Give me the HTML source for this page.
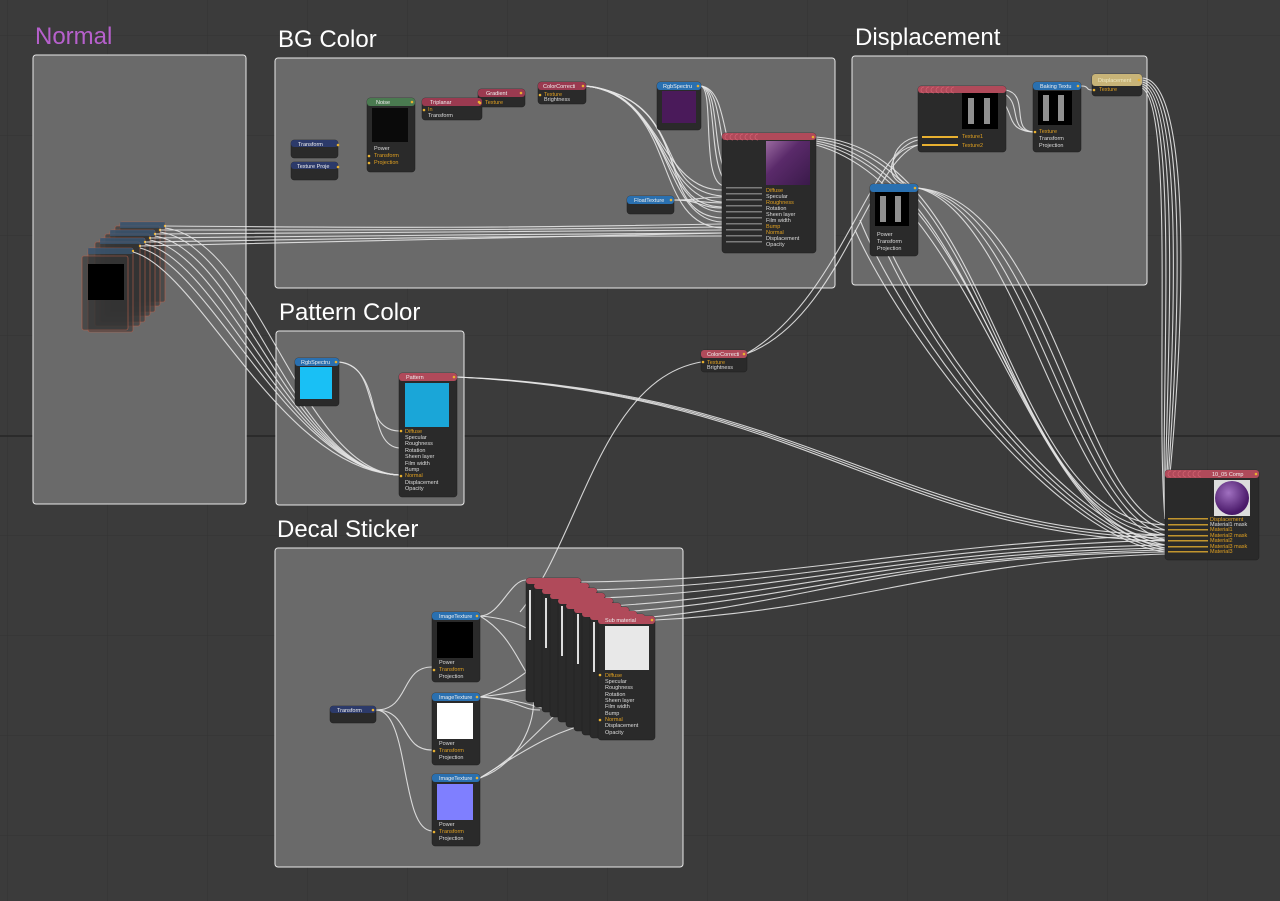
<!DOCTYPE html>
<html><head><meta charset="utf-8"><style>
html,body{margin:0;padding:0;background:#3b3b3b;}
svg{display:block}
text{font-family:"Liberation Sans",sans-serif;}
.t{font-size:5.5px;fill:#ddd}
.o{font-size:5.5px;fill:#e0a020}
.h{font-size:5.5px;fill:#eee}
.g{font-size:24px;fill:#fff}
.w path{fill:none;stroke:#e6e6e6;stroke-width:1.1;opacity:.9}
</style></head><body>
<svg width="1280" height="901" viewBox="0 0 1280 901" xmlns="http://www.w3.org/2000/svg">
<defs>
<pattern id="grid" width="100" height="100" patternUnits="userSpaceOnUse" x="8" y="36">
<path d="M100 0V100M0 100H100" stroke="#333" stroke-width="1" fill="none"/>
</pattern>
<linearGradient id="pg" x1="0" y1="0" x2="1" y2="1"><stop offset="0" stop-color="#9a6aa0"/><stop offset=".4" stop-color="#5a2a6a"/><stop offset="1" stop-color="#3a1a4a"/></linearGradient>
<radialGradient id="sp" cx=".4" cy=".35" r=".6"><stop offset="0" stop-color="#a070c0"/><stop offset="1" stop-color="#4a1a6a"/></radialGradient>
</defs>
<rect width="1280" height="901" fill="#3b3b3b"/>
<rect width="1280" height="901" fill="url(#grid)"/>
<line x1="0" y1="436" x2="1280" y2="436" stroke="#262626" stroke-width="1.5"/>

<g fill="#6a6a6a" stroke="#e8e8e8" stroke-width="1">
<rect x="33" y="55" width="213" height="449" rx="3"/>
<rect x="275" y="58" width="560" height="230" rx="3"/>
<rect x="852" y="56" width="295" height="229" rx="3"/>
<rect x="276" y="331" width="188" height="174" rx="3"/>
<rect x="275" y="548" width="408" height="319" rx="3"/>
</g>
<text x="35" y="44" class="g" style="fill:#b660cc">Normal</text>
<text x="278" y="47" class="g">BG Color</text>
<text x="855" y="45" class="g">Displacement</text>
<text x="279" y="320" class="g">Pattern Color</text>
<text x="277" y="537" class="g">Decal Sticker</text>

<!-- Normal stack -->
<g stroke="#b8604a" stroke-width=".6" fill="#333" fill-opacity=".6">
<rect x="120" y="222" width="45" height="80" rx="2"/>
<rect x="115" y="226" width="45" height="80" rx="2"/>
<rect x="110" y="230" width="45" height="82" rx="2"/>
<rect x="105" y="234" width="45" height="82" rx="2"/>
<rect x="100" y="238" width="45" height="84" rx="2"/>
<rect x="95" y="242" width="45" height="84" rx="2"/>
<rect x="88" y="248" width="45" height="84" rx="2"/>
<rect x="82" y="256" width="46" height="74" rx="2"/>
</g>
<g fill="#3a5a7a" opacity=".7"><rect x="120" y="222" width="45" height="6"/><rect x="110" y="230" width="45" height="6"/><rect x="100" y="238" width="45" height="6"/><rect x="88" y="248" width="45" height="6"/></g>
<rect x="88" y="264" width="36" height="36" fill="#000"/>
<g fill="#e8b030"><circle cx="165" cy="226" r="1.2"/><circle cx="160" cy="230" r="1.2"/><circle cx="155" cy="234" r="1.2"/><circle cx="150" cy="238" r="1.2"/><circle cx="145" cy="242" r="1.2"/><circle cx="140" cy="246" r="1.2"/><circle cx="133" cy="251" r="1.2"/></g>

<g class="w">
<path d="M165 226C400 228 500 228 722 224"/><path d="M160 230C400 230 500 230 722 227"/><path d="M155 234C400 232 500 232 722 230"/><path d="M150 238C400 236 500 234 722 233"/><path d="M145 242C400 238 500 236 722 236"/><path d="M140 246C400 240 500 238 722 233"/>
<path d="M165 228C260 240 300 470 399 475"/><path d="M160 232C250 245 290 470 399 475"/><path d="M155 236C240 250 290 470 399 475"/><path d="M150 240C230 255 290 470 399 475"/><path d="M145 244C220 260 290 470 399 475"/><path d="M140 248C210 265 290 470 399 475"/><path d="M133 252C200 270 280 470 399 475"/>
<path d="M586 86C660 90 660 190 722 190"/><path d="M586 86C665 92 660 200 722 202"/><path d="M586 86C670 94 660 210 722 212"/><path d="M586 86C675 96 660 220 722 222"/><path d="M586 86C680 98 650 225 722 228"/><path d="M586 86C690 100 650 190 722 196"/><path d="M586 86C695 100 650 205 722 207"/><path d="M586 86C700 100 650 215 722 218"/>
<path d="M701 86C720 90 705 185 735 186"/><path d="M701 86C725 90 705 185 745 186"/><path d="M701 86C730 90 710 185 755 186"/><path d="M701 86C735 90 715 185 765 186"/><path d="M701 86C715 90 700 185 725 186"/>
<path d="M674 200C700 200 700 197 722 197"/><path d="M674 200C700 200 700 203 722 203"/><path d="M674 200C700 200 700 208 722 208"/>
<path d="M816 137C1000 150 1000 520 1165 525"/><path d="M816 139C1000 160 1000 525 1165 530"/><path d="M816 141C990 170 1010 530 1165 535"/><path d="M816 143C990 180 1020 535 1165 540"/><path d="M816 145C980 190 1030 540 1165 545"/>
<path d="M918 137C890 140 880 180 918 188"/><path d="M918 145C885 150 880 185 918 188"/>
<path d="M918 140C870 150 840 300 746 354"/><path d="M918 145C870 160 840 320 746 354"/>
<path d="M1006 90C1030 95 1010 130 1033 132"/><path d="M1000 92C1025 100 1005 130 1033 132"/><path d="M990 94C1020 105 1000 130 1033 132"/>
<path d="M1081 86C1090 86 1085 90 1092 90"/>
<path d="M1142 78C1200 80 1180 400 1165 519"/><path d="M1142 80C1195 85 1175 400 1165 519"/><path d="M1142 82C1190 90 1170 400 1165 519"/><path d="M1142 84C1185 95 1165 400 1165 519"/><path d="M1142 86C1180 100 1160 400 1165 519"/><path d="M1142 88C1175 105 1155 400 1165 519"/>
<path d="M918 188C1050 200 1080 500 1165 525"/><path d="M918 188C1040 205 1075 505 1165 530"/><path d="M918 188C1030 210 1070 510 1165 535"/><path d="M918 188C1020 215 1065 515 1165 540"/>
<path d="M870 200C900 300 1050 520 1165 545"/><path d="M870 210C900 310 1050 525 1165 548"/><path d="M860 220C900 320 1050 530 1165 550"/><path d="M855 230C900 330 1050 535 1165 552"/>
<path d="M457 377C800 390 900 530 1165 535"/><path d="M457 377C800 392 900 533 1165 538"/><path d="M457 377C800 394 900 536 1165 541"/>
<path d="M339 362C380 365 360 430 399 431"/><path d="M339 362C385 368 365 445 399 448"/>
<path d="M376 710C410 710 400 667 432 667"/><path d="M376 710C410 710 400 750 432 750"/><path d="M376 710C410 710 400 830 432 831"/>
<path d="M701 362C600 380 580 540 520 612"/>
<path d="M480 616C500 616 510 580 526 580"/>
<path d="M580 582C800 580 900 545 1165 535"/><path d="M590 590C800 585 900 548 1165 540"/><path d="M600 598C800 590 900 550 1165 545"/><path d="M610 606C800 595 900 552 1165 548"/><path d="M620 612C800 600 900 555 1165 550"/><path d="M640 618C800 605 900 555 1165 552"/><path d="M655 620C850 610 950 560 1165 554"/>
<path d="M480 616C530 620 540 640 560 650"/><path d="M480 697C530 680 540 650 560 660"/><path d="M480 697C540 690 560 680 598 676"/><path d="M480 697C540 700 560 720 598 720"/><path d="M480 778C530 760 540 700 530 690"/><path d="M480 778C530 750 560 700 580 700"/><path d="M480 778C540 740 560 730 598 721"/><path d="M480 697C520 700 520 710 540 710"/><path d="M480 616C520 640 520 680 545 690"/>
</g>

<g fill="#2a2a2a" stroke="#1e1e1e" stroke-width=".5">
<rect x="291" y="140" width="47" height="18" rx="3"/><rect x="291" y="162" width="47" height="18" rx="3"/>
<rect x="367" y="98" width="48" height="74" rx="3"/>
<rect x="422" y="98" width="60" height="22" rx="3"/>
<rect x="478" y="89" width="47" height="18" rx="3"/>
<rect x="538" y="82" width="48" height="22" rx="3"/>
<rect x="657" y="82" width="44" height="48" rx="3"/>
<rect x="627" y="196" width="47" height="18" rx="3"/>
<rect x="722" y="133" width="94" height="120" rx="3"/>
<rect x="918" y="86" width="88" height="66" rx="3"/>
<rect x="1033" y="82" width="48" height="70" rx="3"/>
<rect x="1092" y="74" width="50" height="22" rx="3"/>
<rect x="870" y="184" width="48" height="72" rx="3"/>
<rect x="295" y="358" width="44" height="48" rx="3"/>
<rect x="399" y="373" width="58" height="124" rx="3"/>
<rect x="701" y="350" width="46" height="22" rx="3"/>
<rect x="1165" y="470" width="94" height="90" rx="3"/>
<rect x="330" y="706" width="46" height="17" rx="3"/>
<rect x="432" y="612" width="48" height="70" rx="3"/>
<rect x="432" y="693" width="48" height="72" rx="3"/>
<rect x="432" y="774" width="48" height="72" rx="3"/>
<rect x="526" y="578" width="55" height="124" rx="3"/><rect x="534" y="583" width="55" height="124" rx="3"/><rect x="542" y="588" width="55" height="124" rx="3"/><rect x="550" y="593" width="55" height="124" rx="3"/><rect x="558" y="598" width="55" height="124" rx="3"/><rect x="566" y="603" width="55" height="124" rx="3"/><rect x="574" y="607" width="55" height="124" rx="3"/><rect x="582" y="611" width="55" height="124" rx="3"/><rect x="590" y="614" width="55" height="124" rx="3"/>
<rect x="598" y="616" width="57" height="124" rx="3"/>
</g>
<g fill="#b04a5a"><rect x="526" y="578" width="55" height="6" rx="3"/><rect x="534" y="583" width="55" height="6" rx="3"/><rect x="542" y="588" width="55" height="6" rx="3"/><rect x="550" y="593" width="55" height="6" rx="3"/><rect x="558" y="598" width="55" height="6" rx="3"/><rect x="566" y="603" width="55" height="6" rx="3"/><rect x="574" y="607" width="55" height="6" rx="3"/><rect x="582" y="611" width="55" height="6" rx="3"/><rect x="590" y="614" width="55" height="6" rx="3"/></g>
<g fill="#ddd"><rect x="529" y="590" width="2" height="50"/><rect x="545" y="598" width="2" height="50"/><rect x="561" y="606" width="2" height="50"/><rect x="577" y="614" width="2" height="50"/><rect x="593" y="622" width="2" height="50"/></g>

<g>
<rect x="291" y="140" width="47" height="7" rx="3" fill="#2c3a6a"/><rect x="291" y="162" width="47" height="7" rx="3" fill="#2c3a6a"/>
<rect x="367" y="98" width="48" height="8" rx="3" fill="#4a7a50"/>
<rect x="422" y="98" width="60" height="8" rx="3" fill="#9a3a50"/>
<rect x="478" y="89" width="47" height="8" rx="3" fill="#9a3a50"/>
<rect x="538" y="82" width="48" height="8" rx="3" fill="#9a3a50"/>
<rect x="657" y="82" width="44" height="8" rx="3" fill="#2a70b0"/>
<rect x="627" y="196" width="47" height="8" rx="3" fill="#2a70b0"/>
<rect x="722" y="133" width="94" height="7" rx="3" fill="#b04a5a"/>
<rect x="918" y="86" width="88" height="7" rx="3" fill="#b04a5a"/>
<rect x="1033" y="82" width="48" height="8" rx="3" fill="#2a70b0"/>
<rect x="1092" y="74" width="50" height="12" rx="3" fill="#c8b478"/>
<rect x="870" y="184" width="48" height="8" rx="3" fill="#2a70b0"/>
<rect x="295" y="358" width="44" height="8" rx="3" fill="#2a70b0"/>
<rect x="399" y="373" width="58" height="8" rx="3" fill="#b04a5a"/>
<rect x="701" y="350" width="46" height="8" rx="3" fill="#b04a5a"/>
<rect x="1165" y="470" width="94" height="8" rx="3" fill="#b04a5a"/>
<rect x="330" y="706" width="46" height="7" rx="3" fill="#2c3a6a"/>
<rect x="432" y="612" width="48" height="8" rx="3" fill="#2a70b0"/>
<rect x="432" y="693" width="48" height="8" rx="3" fill="#2a70b0"/>
<rect x="432" y="774" width="48" height="8" rx="3" fill="#2a70b0"/>
<rect x="598" y="616" width="57" height="8" rx="3" fill="#b04a5a"/>
</g>
<!-- stacked header ticks -->
<g fill="none" stroke="#d06070" stroke-width=".8">
<path d="M728 134a3 3 0 0 0 0 6M733 134a3 3 0 0 0 0 6M738 134a3 3 0 0 0 0 6M743 134a3 3 0 0 0 0 6M748 134a3 3 0 0 0 0 6M753 134a3 3 0 0 0 0 6M758 134a3 3 0 0 0 0 6"/>
<path d="M924 87a3 3 0 0 0 0 6M929 87a3 3 0 0 0 0 6M934 87a3 3 0 0 0 0 6M939 87a3 3 0 0 0 0 6M944 87a3 3 0 0 0 0 6M949 87a3 3 0 0 0 0 6M954 87a3 3 0 0 0 0 6"/>
<path d="M1171 471a3 3 0 0 0 0 6M1176 471a3 3 0 0 0 0 6M1181 471a3 3 0 0 0 0 6M1186 471a3 3 0 0 0 0 6M1191 471a3 3 0 0 0 0 6M1196 471a3 3 0 0 0 0 6M1201 471a3 3 0 0 0 0 6"/>
</g>
<rect x="372" y="108" width="36" height="34" fill="#0a0a0a"/>
<rect x="662" y="91" width="34" height="32" fill="#4a1a5a"/>
<rect x="766" y="141" width="44" height="44" fill="url(#pg)"/>
<rect x="962" y="93" width="36" height="36" fill="#000"/>
<rect x="1038" y="91" width="34" height="34" fill="#000"/>
<rect x="875" y="192" width="34" height="34" fill="#000"/>
<g fill="#ccc" opacity=".7"><rect x="968" y="98" width="6" height="26"/><rect x="984" y="98" width="6" height="26"/><rect x="1043" y="95" width="6" height="26"/><rect x="1058" y="95" width="6" height="26"/><rect x="880" y="196" width="6" height="26"/><rect x="895" y="196" width="6" height="26"/></g>
<rect x="300" y="367" width="32" height="32" fill="#19c0f5"/>
<rect x="405" y="383" width="44" height="44" fill="#1aa6d8"/>
<rect x="1214" y="480" width="36" height="36" fill="#ddd"/><circle cx="1232" cy="498" r="17" fill="url(#sp)"/>
<rect x="437" y="622" width="36" height="36" fill="#000"/>
<rect x="437" y="703" width="36" height="36" fill="#fff"/>
<rect x="437" y="784" width="36" height="36" fill="#7f7fff"/>
<rect x="605" y="626" width="44" height="44" fill="#e8e8e8"/>

<text x="298" y="146" class="h">Transform</text><text x="297" y="168" class="h">Texture Proje</text>
<text x="376" y="104" class="h">Noise</text><text x="430" y="104" class="h">Triplanar</text>
<text x="486" y="95" class="h">Gradient</text><text x="543" y="88" class="h">ColorCorrecti</text>
<text x="663" y="88" class="h">RgbSpectru</text><text x="634" y="202" class="h">FloatTexture</text>
<text x="1040" y="88" class="h">Baking Textu</text><text x="1098" y="82" class="h" style="fill:#eee8c0">Displacement</text>
<text x="301" y="364" class="h">RgbSpectru</text><text x="406" y="379" class="h">Pattern</text>
<text x="707" y="356" class="h">ColorCorrecti</text><text x="1212" y="476" class="h">10_05 Comp</text>
<text x="337" y="712" class="h">Transform</text>
<text x="439" y="618" class="h">ImageTexture</text><text x="439" y="699" class="h">ImageTexture</text><text x="439" y="780" class="h">ImageTexture</text>
<text x="605" y="622" class="h">Sub material</text>

<text x="374" y="150" class="t">Power</text><text x="374" y="157" class="o">Transform</text><text x="374" y="164" class="o">Projection</text>
<text x="428" y="111" class="o">In</text><text x="428" y="117" class="t">Transform</text>
<text x="485" y="104" class="o">Texture</text>
<text x="544" y="96" class="o">Texture</text><text x="544" y="101" class="t">Brightness</text>
<g transform="translate(766,0)">
<text y="192" class="o">Diffuse</text><text y="198" class="t">Specular</text><text y="204" class="o">Roughness</text><text y="210" class="t">Rotation</text><text y="216" class="t">Sheen layer</text><text y="222" class="t">Film width</text><text y="228" class="o">Bump</text><text y="234" class="o">Normal</text><text y="240" class="t">Displacement</text><text y="246" class="t">Opacity</text>
</g>
<text x="962" y="138" class="o">Texture1</text><text x="962" y="147" class="o">Texture2</text>
<text x="1039" y="133" class="o">Texture</text><text x="1039" y="140" class="t">Transform</text><text x="1039" y="147" class="t">Projection</text>
<text x="1099" y="91" class="o">Texture</text>
<text x="877" y="236" class="t">Power</text><text x="877" y="243" class="t">Transform</text><text x="877" y="250" class="t">Projection</text>
<g transform="translate(405,0)">
<text y="433" class="o">Diffuse</text><text y="439" class="t">Specular</text><text y="445" class="t">Roughness</text><text y="452" class="t">Rotation</text><text y="458" class="t">Sheen layer</text><text y="465" class="t">Film width</text><text y="471" class="t">Bump</text><text y="477" class="o">Normal</text><text y="484" class="t">Displacement</text><text y="490" class="t">Opacity</text>
</g>
<text x="707" y="364" class="o">Texture</text><text x="707" y="369" class="t">Brightness</text>
<g transform="translate(1210,0)">
<text y="521" class="o">Displacement</text><text y="526" class="t">Material1 mask</text><text y="531" class="o">Material1</text><text y="537" class="o">Material2 mask</text><text y="542" class="o">Material2</text><text y="548" class="o">Material3 mask</text><text y="553" class="o">Material3</text>
</g>
<g class="t"><text x="439" y="664">Power</text><text x="439" y="678">Projection</text><text x="439" y="745">Power</text><text x="439" y="759">Projection</text><text x="439" y="826">Power</text><text x="439" y="840">Projection</text></g>
<text x="439" y="671" class="o">Transform</text><text x="439" y="752" class="o">Transform</text><text x="439" y="833" class="o">Transform</text>
<g transform="translate(605,0)">
<text y="677" class="o">Diffuse</text><text y="683" class="t">Specular</text><text y="689" class="t">Roughness</text><text y="696" class="t">Rotation</text><text y="702" class="t">Sheen layer</text><text y="708" class="t">Film width</text><text y="715" class="t">Bump</text><text y="721" class="o">Normal</text><text y="727" class="t">Displacement</text><text y="734" class="t">Opacity</text>
</g>

<g fill="#e8b030">
<circle cx="338" cy="145" r="1.3"/><circle cx="338" cy="167" r="1.3"/><circle cx="412" cy="102" r="1.3"/><circle cx="479" cy="102" r="1.3"/><circle cx="521" cy="93" r="1.3"/><circle cx="583" cy="86" r="1.3"/><circle cx="698" cy="86" r="1.3"/><circle cx="671" cy="200" r="1.3"/><circle cx="1078" cy="86" r="1.3"/><circle cx="1139" cy="80" r="1.3"/><circle cx="915" cy="188" r="1.3"/><circle cx="336" cy="362" r="1.3"/><circle cx="454" cy="377" r="1.3"/><circle cx="744" cy="354" r="1.3"/><circle cx="1256" cy="474" r="1.3"/><circle cx="373" cy="710" r="1.3"/><circle cx="477" cy="616" r="1.3"/><circle cx="477" cy="697" r="1.3"/><circle cx="477" cy="778" r="1.3"/><circle cx="652" cy="620" r="1.3"/><circle cx="813" cy="137" r="1.3"/>
<circle cx="369" cy="156" r="1.3"/><circle cx="369" cy="163" r="1.3"/><circle cx="424" cy="110" r="1.3"/><circle cx="480" cy="103" r="1.3"/><circle cx="540" cy="95" r="1.3"/><circle cx="1035" cy="132" r="1.3"/><circle cx="1094" cy="90" r="1.3"/><circle cx="401" cy="431" r="1.3"/><circle cx="401" cy="476" r="1.3"/><circle cx="703" cy="362" r="1.3"/><circle cx="434" cy="670" r="1.3"/><circle cx="434" cy="751" r="1.3"/><circle cx="434" cy="832" r="1.3"/><circle cx="600" cy="675" r="1.3"/><circle cx="600" cy="720" r="1.3"/>
</g>
<g fill="#ccc">
<path d="M726 187h36v1.5h-36zM726 193h36v1.5h-36zM726 199h36v1.5h-36zM726 205h36v1.5h-36zM726 211h36v1.5h-36zM726 217h36v1.5h-36zM726 223h36v1.5h-36zM726 229h36v1.5h-36zM726 235h36v1.5h-36zM726 241h36v1.5h-36z" opacity=".5"/>
<path d="M922 136h36v2h-36zM922 144h36v2h-36z" fill="#e8b030"/>
<path d="M1168 518h40v1.5h-40zM1168 524h40v1.5h-40zM1168 529h40v1.5h-40zM1168 535h40v1.5h-40zM1168 540h40v1.5h-40zM1168 546h40v1.5h-40zM1168 551h40v1.5h-40z" fill="#e8b030" opacity=".8"/>
</g>
</svg>
</body></html>
